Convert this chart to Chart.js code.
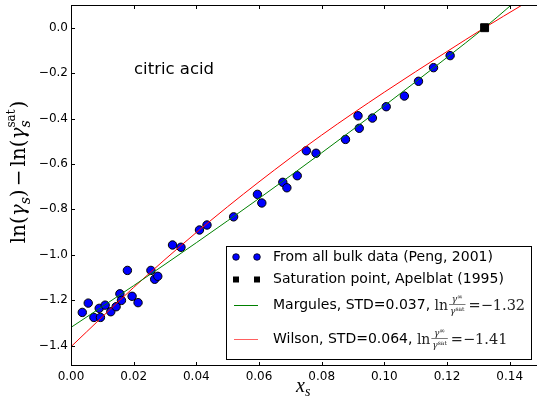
<!DOCTYPE html>
<html>
<head>
<meta charset="utf-8">
<script src="https://cdn.jsdelivr.net/npm/chart.js@4.4.1/dist/chart.umd.min.js"></script>
<style>
  html, body { margin: 0; padding: 0; overflow: hidden; background: #fff; }
  canvas { display: block; }
</style>
</head>
<body>
<canvas id="chart" width="541" height="402"></canvas>
<script>
// bulk data points (Peng, 2001)
const bulkX = [0.0036, 0.0055, 0.0073, 0.0090, 0.0094, 0.0109, 0.0127, 0.0144, 0.0156, 0.0161,
               0.0180, 0.0195, 0.0214, 0.0255, 0.0267, 0.0277, 0.0324, 0.0351, 0.0410, 0.0434,
               0.0519, 0.0595, 0.0609, 0.0676, 0.0689, 0.0722, 0.0751, 0.0782, 0.0876, 0.0916,
               0.0920, 0.0962, 0.1006, 0.1064, 0.1109, 0.1157, 0.1210];
const bulkY = [-1.254, -1.213, -1.276, -1.236, -1.276, -1.222, -1.251, -1.229, -1.172, -1.201,
               -1.069, -1.183, -1.211, -1.069, -1.108, -1.095, -0.957, -0.967, -0.891, -0.869,
               -0.833, -0.734, -0.772, -0.681, -0.705, -0.652, -0.542, -0.553, -0.492, -0.388,
               -0.443, -0.398, -0.348, -0.301, -0.236, -0.176, -0.123];

// saturation point (Apelblat, 1995)
const satX = [0.132];
const satY = [0.0];

// model curves
const margulesX = [0, 0.02, 0.04, 0.06, 0.08, 0.10, 0.12, 0.132, 0.1405];
const margulesY = [-1.32, -1.136, -0.947, -0.752, -0.551, -0.344, -0.131, 0.0, 0.1];
const wilsonX = [0, 0.02, 0.04, 0.06, 0.08, 0.10, 0.12, 0.132, 0.144];
const wilsonY = [-1.405, -1.144, -0.902, -0.679, -0.473, -0.284, -0.105, 0.0, 0.1];

const xTicks = [0, 0.02, 0.04, 0.06, 0.08, 0.10, 0.12, 0.14];
const yTicks = [-1.4, -1.2, -1.0, -0.8, -0.6, -0.4, -0.2, 0.0];

const legendLabels = ['From all bulk data (Peng, 2001)', 'Saturation point, Apelblat (1995)',
                      'Margules, STD=0.037, ', 'Wilson, STD=0.064, '];
const legendLnValues = ['\u22121.32', '\u22121.41'];

const pts = (xs, ys) => xs.map((x, i) => ({ x: x, y: ys[i] }));

// draw a run of text pieces, returns the width
function runWidth(ctx, parts) {
    let w = 0;
    parts.forEach(p => { ctx.font = p.f; w += ctx.measureText(p.t).width + (p.gap || 0); });
    return w;
}
function drawRun(ctx, x, y, parts) {
    parts.forEach(p => {
        ctx.font = p.f;
        ctx.fillText(p.t, x, y + (p.dy || 0));
        x += ctx.measureText(p.t).width + (p.gap || 0);
    });
    return x;
}

// little fraction ln γ∞/γsat used in the legend
function drawLnFrac(ctx, x, yc, value) {
    ctx.save();
    ctx.fillStyle = '#222';
    ctx.strokeStyle = '#222';
    ctx.textBaseline = 'alphabetic';
    ctx.font = '14px "DejaVu Serif"';
    ctx.fillText('ln', x, yc + 5);
    x += ctx.measureText('ln').width + 1;
    const num = [{ t: '\u03b3', f: 'italic 9px "DejaVu Serif"' }, { t: '\u221e', f: '7px "DejaVu Serif"', dy: -3 }];
    const den = [{ t: '\u03b3', f: 'italic 9px "DejaVu Serif"' }, { t: 'sat', f: '6px "DejaVu Serif"', dy: -3 }];
    const wn = runWidth(ctx, num), wd = runWidth(ctx, den);
    const fw = Math.max(wn, wd) + 2;
    drawRun(ctx, x + (fw - wn) / 2, yc - 3, num);
    drawRun(ctx, x + (fw - wd) / 2, yc + 9, den);
    ctx.lineWidth = 0.6;
    ctx.beginPath();
    ctx.moveTo(x, yc - 0.5);
    ctx.lineTo(x + fw, yc - 0.5);
    ctx.stroke();
    x += fw + 3;
    ctx.font = '14.5px "DejaVu Serif"';
    ctx.fillText('=' + value, x, yc + 5);
    ctx.restore();
}

const decorPlugin = {
    id: 'decor',
    afterDraw(chart) {
        const ctx = chart.ctx;
        const a = chart.chartArea;
        const xs = chart.scales.x, ys = chart.scales.y;
        ctx.save();

        // frame and inward ticks on all sides
        ctx.strokeStyle = '#000';
        ctx.lineWidth = 1;
        ctx.strokeRect(a.left + 0.5, a.top + 0.5, a.right - a.left - 1, a.bottom - a.top - 1);
        ctx.beginPath();
        xTicks.forEach(v => {
            const px = Math.round(xs.getPixelForValue(v)) + 0.5;
            ctx.moveTo(px, a.bottom); ctx.lineTo(px, a.bottom - 4);
            ctx.moveTo(px, a.top); ctx.lineTo(px, a.top + 4);
        });
        yTicks.forEach(v => {
            const py = Math.round(ys.getPixelForValue(v)) + 0.5;
            ctx.moveTo(a.left, py); ctx.lineTo(a.left + 4, py);
            ctx.moveTo(a.right, py); ctx.lineTo(a.right - 4, py);
        });
        ctx.stroke();

        // annotation
        ctx.fillStyle = '#000';
        ctx.textBaseline = 'alphabetic';
        ctx.font = '16.5px "DejaVu Sans"';
        ctx.fillText('citric acid', 134, 74);

        // x axis title
        drawRun(ctx, 296, 392, [
            { t: 'x', f: 'italic 20px "Liberation Serif"' },
            { t: 's', f: 'italic 14px "Liberation Serif"', dy: 4 }
        ]);

        // y axis title, rotated
        const big = '20px "DejaVu Serif"', bigI = 'italic 20px "DejaVu Serif"';
        const subI = 'italic 14px "DejaVu Serif"', sup = '12px "DejaVu Serif"';
        const yParts = [
            { t: 'ln(', f: big }, { t: '\u03b3', f: bigI }, { t: 's', f: subI, dy: 5 },
            { t: ')', f: big, gap: 3 }, { t: '\u2212', f: big, gap: 3 },
            { t: 'ln(', f: big }, { t: '\u03b3', f: bigI }
        ];
        ctx.font = sup;
        const satW = ctx.measureText('sat').width;
        const total = runWidth(ctx, yParts) + satW + 1 + runWidth(ctx, [{ t: ')', f: big }]);
        ctx.translate(25, 172);
        ctx.rotate(-Math.PI / 2);
        let cx = drawRun(ctx, -total / 2, 0, yParts);
        ctx.font = subI; ctx.fillText('s', cx, 5);
        ctx.font = sup; ctx.fillText('sat', cx, -10);
        cx += satW + 1;
        ctx.font = big; ctx.fillText(')', cx, 0);
        ctx.setTransform(1, 0, 0, 1, 0, 0);

        // legend
        const lb = { left: 226, top: 246, right: 532, bottom: 360 };
        ctx.fillStyle = '#fff';
        ctx.fillRect(lb.left, lb.top, lb.right - lb.left, lb.bottom - lb.top);
        ctx.strokeStyle = '#000';
        ctx.lineWidth = 1;
        ctx.strokeRect(lb.left + 0.5, lb.top + 0.5, lb.right - lb.left - 1, lb.bottom - lb.top - 1);

        const rows = [257, 279.5, 305, 339];
        const m1 = 236, m2 = 257, tx = 273;
        // circles
        [m1, m2].forEach(mx => {
            ctx.beginPath();
            ctx.arc(mx, rows[0], 3.3, 0, Math.PI * 2);
            ctx.fillStyle = '#0000ff'; ctx.fill();
            ctx.strokeStyle = '#000'; ctx.lineWidth = 0.8; ctx.stroke();
            ctx.fillStyle = '#000';
            ctx.fillRect(mx - 3, rows[1] - 3, 6, 6);
        });
        ctx.lineWidth = 1;
        ctx.strokeStyle = '#008000';
        ctx.beginPath(); ctx.moveTo(234, rows[2] + 0.5); ctx.lineTo(258, rows[2] + 0.5); ctx.stroke();
        ctx.strokeStyle = '#ff6060';
        ctx.beginPath(); ctx.moveTo(234, rows[3] + 0.5); ctx.lineTo(258, rows[3] + 0.5); ctx.stroke();

        ctx.fillStyle = '#000';
        ctx.font = '14px "DejaVu Sans"';
        ctx.textBaseline = 'middle';
        legendLabels.forEach((s, i) => ctx.fillText(s, tx, rows[i]));
        ctx.font = '14px "DejaVu Sans"';
        const w2 = ctx.measureText(legendLabels[2]).width;
        const w3 = ctx.measureText(legendLabels[3]).width;
        drawLnFrac(ctx, tx + w2, rows[2], legendLnValues[0]);
        drawLnFrac(ctx, tx + w3, rows[3], legendLnValues[1]);

        ctx.restore();
    }
};

new Chart(document.getElementById('chart'), {
    type: 'scatter',
    data: {
        datasets: [
            {
                label: 'Saturation point',
                data: pts(satX, satY),
                pointStyle: 'rect',
                pointRadius: 5.6,
                backgroundColor: '#000',
                borderColor: '#000',
                borderWidth: 1,
                order: 0
            },
            {
                label: 'Margules',
                type: 'line',
                data: pts(margulesX, margulesY),
                borderColor: '#008000',
                borderWidth: 1,
                pointRadius: 0,
                cubicInterpolationMode: 'monotone',
                fill: false,
                order: 1
            },
            {
                label: 'Wilson',
                type: 'line',
                data: pts(wilsonX, wilsonY),
                borderColor: '#ff0000',
                borderWidth: 1,
                pointRadius: 0,
                cubicInterpolationMode: 'monotone',
                fill: false,
                order: 2
            },
            {
                label: 'From all bulk data',
                data: pts(bulkX, bulkY),
                pointStyle: 'circle',
                pointRadius: 4.2,
                backgroundColor: '#0000ff',
                borderColor: '#000',
                borderWidth: 1,
                order: 3
            }
        ]
    },
    options: {
        responsive: false,
        animation: false,
        layout: { autoPadding: false, padding: { top: 5, left: 0, right: 0, bottom: 0 } },
        plugins: {
            legend: { display: false },
            tooltip: { enabled: false }
        },
        scales: {
            x: {
                type: 'linear',
                min: 0,
                max: 0.15,
                grid: { display: false, drawTicks: false },
                border: { display: false },
                afterBuildTicks: s => { s.ticks = xTicks.map(v => ({ value: v })); },
                afterFit: s => { s.height = 36; s.paddingLeft = 0; s.paddingRight = 0; },
                ticks: {
                    padding: 4,
                    maxRotation: 0,
                    color: '#000',
                    font: { family: 'DejaVu Sans', size: 12 },
                    callback: v => v.toFixed(2)
                }
            },
            y: {
                type: 'linear',
                min: -1.49,
                max: 0.1,
                grid: { display: false, drawTicks: false },
                border: { display: false },
                afterBuildTicks: s => { s.ticks = yTicks.map(v => ({ value: v })); },
                afterFit: s => { s.width = 71; s.paddingTop = 0; s.paddingBottom = 0; },
                ticks: {
                    padding: 3,
                    color: '#000',
                    font: { family: 'DejaVu Sans', size: 12 },
                    callback: v => (v < -1e-9 ? '\u2212' : '') + Math.abs(v).toFixed(1)
                }
            }
        }
    },
    plugins: [decorPlugin]
});
</script>
</body>
</html>
